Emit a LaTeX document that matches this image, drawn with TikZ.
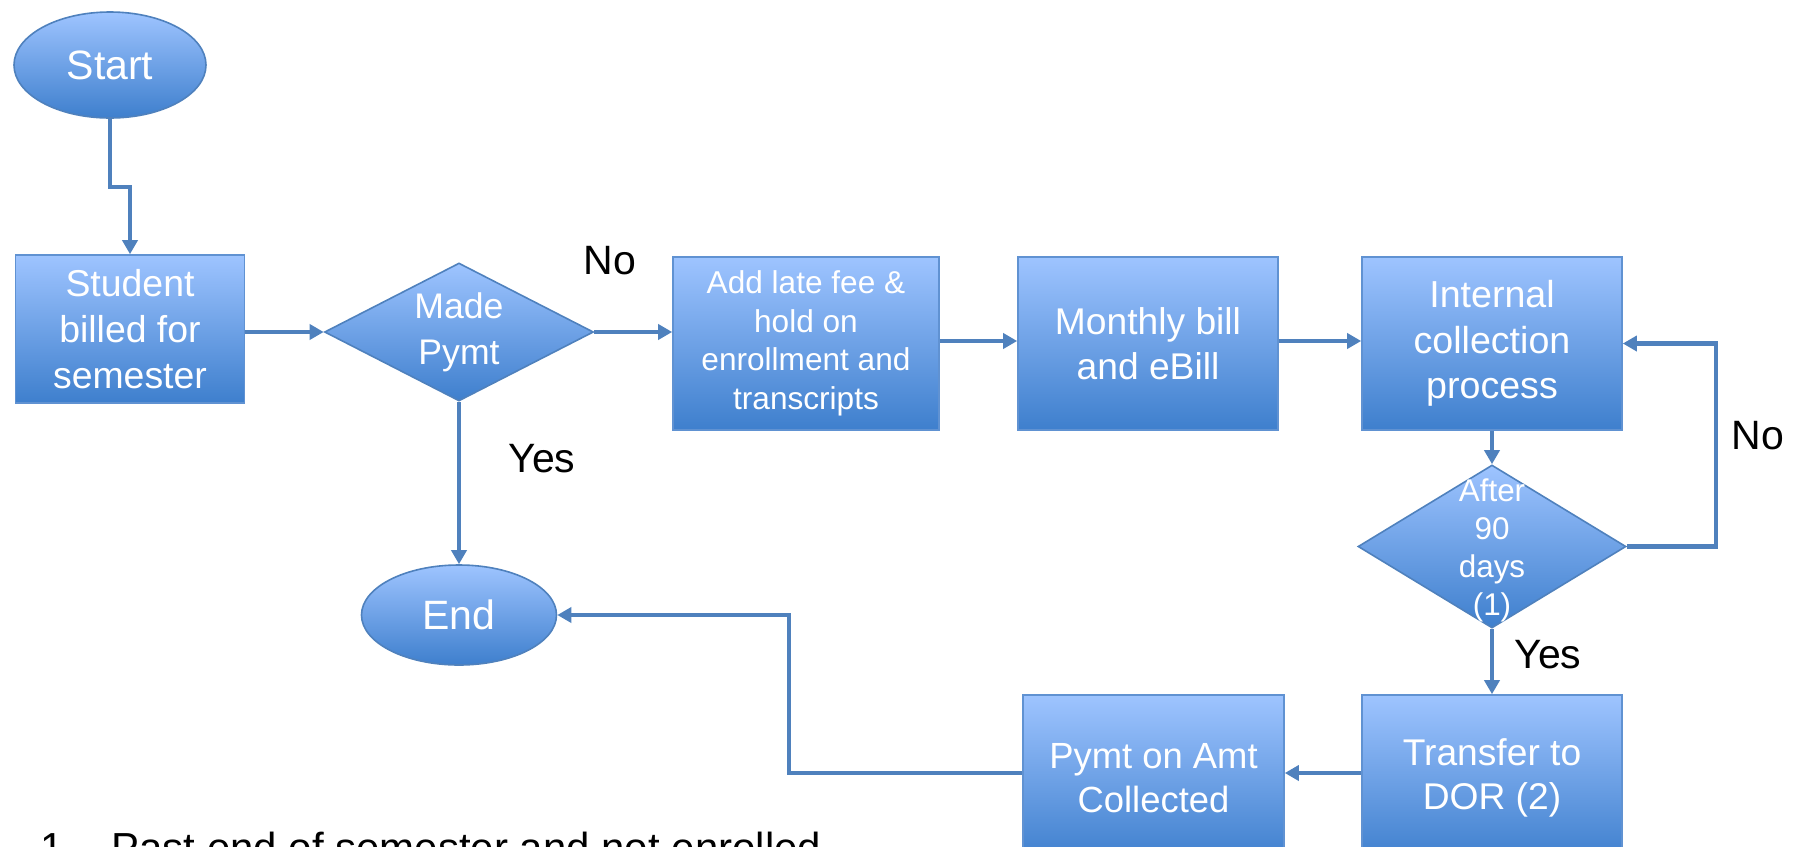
\documentclass[tikz,border=0pt]{standalone}
\usepackage{fontspec}
\setmainfont{Liberation Sans}
\usepackage{tikz}
\usepackage{xcolor}
\usetikzlibrary{arrows.meta,shapes.geometric,positioning}

\definecolor{flowtop}{RGB}{158,196,255}
\definecolor{flowbot}{RGB}{62,127,205}
\definecolor{flowline}{RGB}{79,129,189}
\definecolor{flowedge}{RGB}{96,146,210}

\begin{document}
\begin{tikzpicture}
[x=0.5pt,y=-0.5pt,
      box/.style={rectangle,draw=flowedge,line width=0.8pt,
      top color=flowtop,bottom color=flowbot,text=white,align=center,inner sep=2pt},
      term/.style={ellipse,draw=flowline,line width=0.8pt,
      top color=flowtop,bottom color=flowbot,text=white,inner sep=0pt,
      font=\fontsize{20.5}{24}\selectfont},
      dec/.style={diamond,draw=flowline,line width=0.8pt,
      top color=flowtop,bottom color=flowbot,inner sep=0pt},
      dectext/.style={text=white,align=center,inner sep=0pt},
      arr/.style={draw=flowline,line width=2.25pt,-{Triangle[length=7pt,width=7.5pt]}},
      lbl/.style={font=\fontsize{20.5}{24}\selectfont,inner sep=0pt}]
 \useasboundingbox (0,0) rectangle (1796,847);
 \clip (0,0) rectangle (1796,847);
 % terminals
 \node[term,minimum width=96pt,minimum height=53pt] (start) at (110,65) {Start};
 \node[term,minimum width=97.5pt,minimum height=50pt] (end) at (459,615) {End};
 % process boxes
 \node[box,minimum width=114.5pt,minimum height=74pt,
  font=\fontsize{18.7}{23}\selectfont] (student) at (130,329)
  {Student\\billed for\\semester};
 \node[box,minimum width=133pt,minimum height=86.5pt,
  font=\fontsize{15.8}{19.3}\selectfont] (late) at (806,343.5)
  {Add late fee \&\\hold on\\enrollment and\\transcripts};
 \node[box,minimum width=130pt,minimum height=86.5pt,
  font=\fontsize{18.6}{22.5}\selectfont] (monthly) at (1148,343.5)
  {Monthly bill\\and eBill};
 \node[box,minimum width=130pt,minimum height=86.5pt,
  font=\fontsize{18.8}{22.8}\selectfont] (internal) at (1492,343.5)
  {Internal\\collection\\process};
 \node[box,minimum width=130pt,minimum height=83pt,
  font=\fontsize{18.6}{22}\selectfont] (transfer) at (1492,778)
  {Transfer to\\DOR (2)};
 \node[box,minimum width=130.5pt,minimum height=83pt,
  font=\fontsize{18.2}{22}\selectfont] (pymt) at (1153.5,778)
  {Pymt on Amt\\Collected};
 % decisions
 \node[dec,minimum width=134.5pt,minimum height=69pt] (made) at (459,332) {};
 \node[dectext,font=\fontsize{17.8}{23}\selectfont] (madetxt) at (made) {Made\\Pymt};
 \node[dec,minimum width=134pt,minimum height=81.5pt] (after) at (1492,546.5) {};
 \node[dectext,font=\fontsize{15.7}{19}\selectfont] (aftertxt) at (1492,550) {After\\90\\days\\(1)};
 % labels
 \node[lbl] (madeno) at (610,261) {No};
 \node[lbl] (madeyes) at (542,459) {Yes};
 \node[lbl] (afterno) at (1758,436) {No};
 \node[lbl] (afteryes) at (1548,655) {Yes};
 \node[anchor=base west,inner sep=0pt,font=\fontsize{21}{25}\selectfont] (note) at (40,862)
  {1.\hspace{18pt}Past end of semester and not enrolled};
 % connectors
 \draw[arr] (start.south) -- ++(0,68) -| (student.north);
 \draw[arr] (student.east |- made.west) -- (made.west);
 \draw[arr] (made.east) -- (made.east -| late.west);
 \draw[arr] (made.south) -- (end.north);
 \draw[arr] (late.east |- 0,341) -- (monthly.west |- 0,341);
 \draw[arr] (monthly.east |- 0,341) -- (internal.west |- 0,341);
 \draw[arr] (internal.south) -- (after.north);
 \draw[arr] (after.east) -- ++(89,0) |- (internal.east);
 \draw[arr] (after.south) -- (transfer.north);
 \draw[arr] (transfer.west |- 0,773) -- (pymt.east |- 0,773);
 \draw[arr] (pymt.west |- 0,773) -- ++(-233,0) |- (end.east);
\end{tikzpicture}
\end{document}
